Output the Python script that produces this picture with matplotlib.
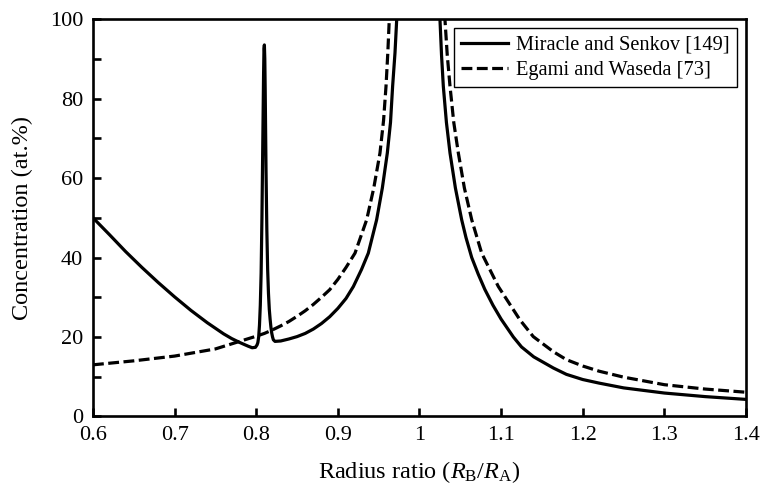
import matplotlib
matplotlib.use("Agg")
import matplotlib.pyplot as plt
from matplotlib.ticker import MultipleLocator, FixedLocator, FixedFormatter

plt.rcParams['font.family'] = ['Liberation Serif', 'DejaVu Serif']
plt.rcParams['mathtext.fontset'] = 'custom'
plt.rcParams['mathtext.rm'] = 'Liberation Serif'
plt.rcParams['mathtext.it'] = 'Liberation Serif:italic'

# Miracle and Senkov [149] (solid)
ms_x_left = [0.600, 0.620, 0.640, 0.660, 0.680, 0.700, 0.720, 0.740, 0.760, 0.770,
             0.780, 0.790, 0.795, 0.799, 0.801, 0.802, 0.803, 0.804, 0.805, 0.806,
             0.807, 0.808, 0.809, 0.8095, 0.8100, 0.8105, 0.811, 0.812, 0.813, 0.814,
             0.815, 0.816, 0.817, 0.818, 0.819, 0.820, 0.821, 0.823, 0.830, 0.840,
             0.850, 0.860, 0.870, 0.880, 0.890, 0.900, 0.910, 0.919, 0.929, 0.9373,
             0.9475, 0.9545, 0.9606, 0.9645, 0.9671, 0.9700, 0.9721, 0.974]
ms_y_left = [50.0, 45.8, 41.5, 37.5, 33.7, 30.1, 26.7, 23.6, 20.8, 19.6,
             18.6, 17.7, 17.3, 17.4, 18.0, 18.6, 20.0, 23.0, 28.0, 36.0,
             50.0, 68.0, 86.0, 92.5, 93.5, 90.0, 82.0, 62.0, 47.0, 37.0,
             31.0, 27.0, 24.5, 22.5, 21.0, 20.0, 19.3, 18.9, 19.0, 19.5,
             20.1, 20.9, 22.0, 23.4, 25.1, 27.2, 29.7, 32.7, 37.0, 41.1,
             49.5, 57.5, 66.3, 74.0, 83.1, 91.5, 99.9, 108.0]
ms_x_right = [1.0235, 1.0251, 1.0270, 1.0292, 1.0330, 1.0374, 1.0440, 1.0517, 1.0570,
              1.0640, 1.0720, 1.0800, 1.0900, 1.1000, 1.1150, 1.1250, 1.1400, 1.1640,
              1.1800, 1.2000, 1.2200, 1.2500, 1.3000, 1.3500, 1.4000]
ms_y_right = [108.0, 99.9, 91.0, 83.1, 74.0, 66.3, 57.5, 49.5, 45.0,
              40.0, 35.8, 32.0, 28.0, 24.5, 20.0, 17.5, 15.0, 12.2,
              10.6, 9.3, 8.4, 7.2, 5.9, 5.0, 4.3]

# Egami and Waseda [73] (dashed)
ew_x_left = [0.600, 0.650, 0.700, 0.750, 0.800, 0.810, 0.820, 0.830, 0.840, 0.850,
             0.860, 0.870, 0.880, 0.890, 0.900, 0.910, 0.921, 0.9353, 0.9440, 0.9516,
             0.9560, 0.9590, 0.9612, 0.9630, 0.9650]
ew_y_left = [13.0, 14.0, 15.2, 17.0, 20.2, 20.9, 21.8, 22.8, 23.9, 25.2,
             26.6, 28.2, 30.0, 31.9, 34.5, 37.5, 41.1, 49.5, 57.5, 66.3,
             74.5, 83.1, 91.5, 99.9, 108.0]
ew_x_right = [1.0290, 1.0312, 1.0340, 1.0374, 1.0420, 1.0476, 1.0550, 1.0640, 1.0762,
              1.0966, 1.1231, 1.1394, 1.1640, 1.1800, 1.2000, 1.2200, 1.2500, 1.3000,
              1.3500, 1.4000]
ew_y_right = [108.0, 99.9, 91.0, 83.1, 74.0, 66.3, 57.5, 49.5, 41.1,
              32.7, 24.3, 20.1, 16.3, 14.3, 12.7, 11.4, 9.9, 8.0,
              6.9, 6.1]

x_ticks = [0.6, 0.7, 0.8, 0.9, 1.0, 1.1, 1.2, 1.3, 1.4]
x_tick_labels = ['0.6', '0.7', '0.8', '0.9', '1', '1.1', '1.2', '1.3', '1.4']
y_ticks = [0, 20, 40, 60, 80, 100]

fig = plt.figure(figsize=(7.62, 4.87), dpi=100)
ax = fig.add_axes([0.122, 0.1448, 0.857, 0.816])

lw = 2.3
dash = (0, (3.4, 1.4))
ax.plot(ms_x_left, ms_y_left, color='black', lw=lw, solid_joinstyle='round',
        label='Miracle and Senkov [149]')
ax.plot(ms_x_right, ms_y_right, color='black', lw=lw, solid_joinstyle='round')
ax.plot(ew_x_left, ew_y_left, color='black', lw=lw, linestyle=dash,
        label='Egami and Waseda [73]')
ax.plot(ew_x_right, ew_y_right, color='black', lw=lw, linestyle=dash)

ax.set_xlim(0.6, 1.4)
ax.set_ylim(0, 100)
ax.xaxis.set_major_locator(FixedLocator(x_ticks))
ax.xaxis.set_major_formatter(FixedFormatter(x_tick_labels))
ax.yaxis.set_major_locator(FixedLocator(y_ticks))
ax.yaxis.set_minor_locator(MultipleLocator(10))

for s in ax.spines.values():
    s.set_linewidth(1.9)
ax.tick_params(axis='both', which='both', direction='in', length=6, width=1.9,
               labelsize=16, top=False, right=False)
ax.tick_params(axis='x', pad=7)
ax.tick_params(axis='y', pad=7)

ax.set_xlabel(r'Radius ratio ($R_\mathrm{B}/R_\mathrm{A}$)', fontsize=17.5, labelpad=10)
ax.set_ylabel('Concentration (at.%)', fontsize=17.5, labelpad=12)

leg = ax.legend(loc='upper right', fontsize=14.7, frameon=True, fancybox=False,
                edgecolor='black', framealpha=1, handlelength=2.3,
                borderpad=0.35, labelspacing=0.3, handletextpad=0.4,
                borderaxespad=0.45)
leg.get_frame().set_linewidth(1.0)

fig.savefig('out.png', dpi=100)
